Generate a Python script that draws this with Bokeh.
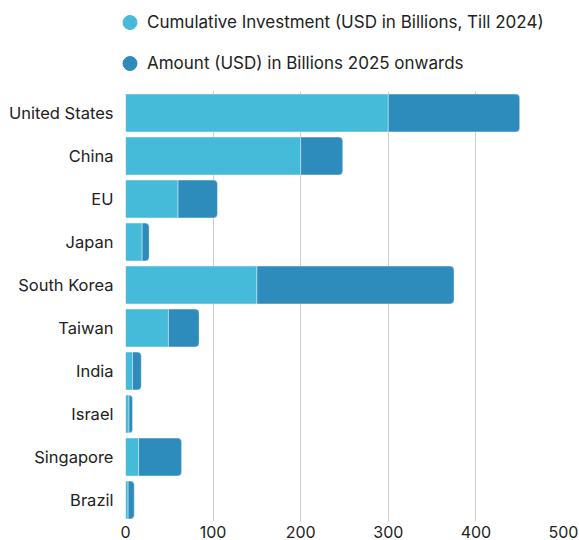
from bokeh.plotting import figure
from bokeh.layouts import column
from bokeh.models import ColumnDataSource, Legend, LegendItem, FactorRange, Range1d
from bokeh.embed import file_html
from bokeh.resources import INLINE

countries = ["United States", "China", "EU", "Japan", "South Korea", "Taiwan",
             "India", "Israel", "Singapore", "Brazil"]
cumulative = [300, 200, 60, 19, 150, 49, 8, 4, 15, 3]
future = [150, 48, 45, 8, 225, 35, 10, 4, 49, 7]
x_ticks = [0, 100, 200, 300, 400, 500]
series_labels = ["Cumulative Investment (USD in Billions, Till 2024)",
                 "Amount (USD) in Billions 2025 onwards"]
colors = ["#45BBD9", "#2E8CBC"]

FONT = "Inter"

total = [c + f for c, f in zip(cumulative, future)]
source = ColumnDataSource(dict(country=countries, cum=cumulative, fut=future, total=total))

# ---- legend strip on top ----
leg = figure(width=579, height=91, x_range=Range1d(0, 1), y_range=Range1d(0, 1),
             x_axis_type=None, y_axis_type=None,
             output_backend="svg", toolbar_location=None,
             min_border=0, min_border_left=0, min_border_right=0,
             min_border_top=0, min_border_bottom=0)
if "frame_align" in leg.properties():
    leg.frame_align = False
leg.outline_line_color = None
leg.xgrid.grid_line_color = None
leg.ygrid.grid_line_color = None
# off-screen dummy points, only used to draw the legend markers
r1 = leg.scatter(x=[-5], y=[-5], marker="circle", color=colors[0])
r2 = leg.scatter(x=[-5], y=[-5], marker="circle", color=colors[1])
legend = Legend(items=[LegendItem(label=series_labels[0], renderers=[r1]),
                       LegendItem(label=series_labels[1], renderers=[r2])],
                location=(112, 8), orientation="vertical",
                glyph_width=35, glyph_height=40, spacing=1, padding=0, margin=0,
                label_standoff=0, border_line_color=None, background_fill_alpha=0,
                label_text_font=FONT, label_text_font_size="17px",
                label_text_color="#222222", label_text_baseline="middle")
leg.add_layout(legend, "center")

# ---- main chart ----
p = figure(width=579, height=449,
           y_range=FactorRange(factors=countries[::-1]),
           x_range=Range1d(0, 500),
           output_backend="svg", toolbar_location=None,
           min_border_left=125, min_border_right=16,
           min_border_top=0, min_border_bottom=0)

p.hbar(y="country", left=0, right="cum", height=0.88, source=source,
       fill_color=colors[0], line_color="white", line_alpha=0.4, line_width=1)
p.hbar(y="country", left="cum", right="total", height=0.88, source=source,
       fill_color=colors[1], line_color="white", line_alpha=0.4, line_width=1,
       border_radius=(0, 4, 4, 0))

p.xaxis.ticker = x_ticks
for ax in (p.xaxis, p.yaxis):
    ax.axis_line_color = None
    ax.major_tick_line_color = None
    ax.minor_tick_line_color = None
    ax.major_tick_out = 0
    ax.major_tick_in = 0
    ax.minor_tick_out = 0
    ax.minor_tick_in = 0
    ax.major_label_text_font = FONT
    ax.major_label_text_color = "#222222"
p.xaxis.major_label_text_font_size = "16px"
p.yaxis.major_label_text_font_size = "16.5px"
p.xaxis.major_label_standoff = 4
p.yaxis.major_label_standoff = 12

p.ygrid.grid_line_color = None
p.xgrid.grid_line_color = "#cccccc"
p.xgrid.grid_line_width = 1
p.outline_line_color = None

open("out.html", "w").write(file_html(column(leg, p), INLINE))
